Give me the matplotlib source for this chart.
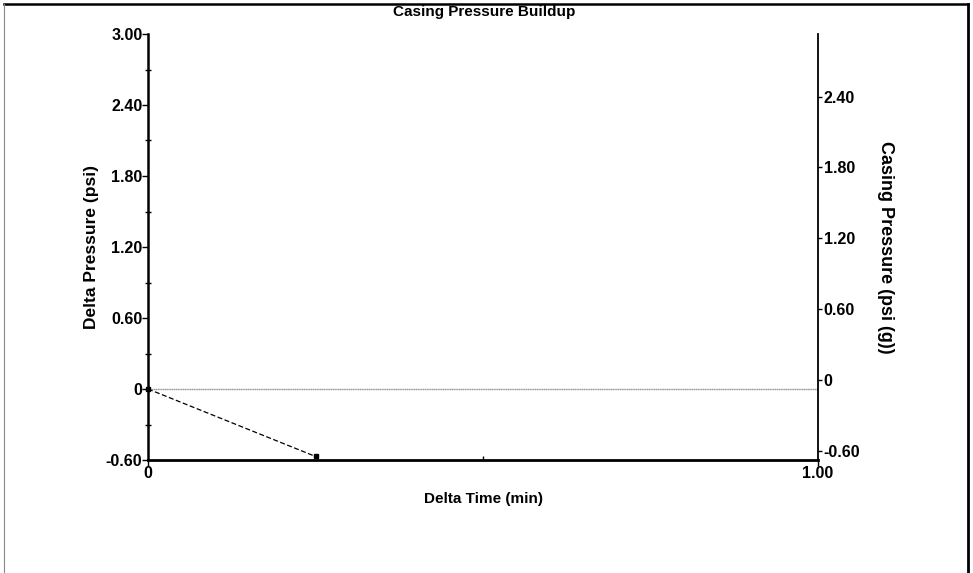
import matplotlib
matplotlib.use("Agg")
import matplotlib.pyplot as plt
from matplotlib.lines import Line2D
from matplotlib.ticker import MultipleLocator, FixedLocator

plt.rcParams['font.family'] = ['Liberation Sans', 'DejaVu Sans']

# data
delta_time = [0.0, 0.25]
delta_pressure = [0.0, -0.57]
left_ticks = [-0.60, 0, 0.60, 1.20, 1.80, 2.40, 3.00]
left_labels = ['-0.60', '0', '0.60', '1.20', '1.80', '2.40', '3.00']
right_ticks = [-0.60, 0, 0.60, 1.20, 1.80, 2.40]
right_labels = ['-0.60', '0', '0.60', '1.20', '1.80', '2.40']
x_ticks = [0, 1.0]
x_labels = ['0', '1.00']

fig = plt.figure(figsize=(9.73, 5.73), dpi=100)
ax = fig.add_axes([148/973, 1-460/573, (818-148)/973, (460-34)/573])

ax.set_xlim(0, 1.0)
ax.set_ylim(-0.60, 3.00)

ax.axhline(0, color='#999999', lw=1.0, ls=(0, (1, 0.3)), zorder=1)
ax.plot(delta_time, delta_pressure, color='black', lw=0.9, ls=(0, (4, 2)),
        marker='s', ms=3.5, mfc='black', mec='black', zorder=3, clip_on=False)

for s in ['top', 'right']:
    ax.spines[s].set_visible(False)
ax.spines['left'].set_linewidth(1.8)
ax.spines['bottom'].set_linewidth(2.0)

ax.yaxis.set_major_locator(FixedLocator(left_ticks))
ax.set_yticklabels(left_labels)
ax.yaxis.set_minor_locator(MultipleLocator(0.3))
ax.xaxis.set_major_locator(FixedLocator(x_ticks))
ax.set_xticklabels(x_labels)
ax.xaxis.set_minor_locator(FixedLocator([0.5]))

ax.tick_params(axis='both', which='major', direction='out', length=4, width=1,
               labelsize=11.5, pad=0)
ax.tick_params(axis='y', which='minor', direction='inout', length=4, width=1)
ax.tick_params(axis='x', which='minor', direction='in', length=3, width=1)
for lab in ax.get_xticklabels() + ax.get_yticklabels():
    lab.set_fontweight('bold')

ax.set_xlabel('Delta Time (min)', fontsize=11, fontweight='bold', labelpad=8)
ax.set_ylabel('Delta Pressure (psi)', fontsize=12.5, fontweight='bold', labelpad=5)

ax2 = ax.twinx()
ax2.set_ylim(-0.676, 2.93)
for s in ['top', 'left', 'bottom']:
    ax2.spines[s].set_visible(False)
ax2.spines['right'].set_linewidth(1.3)
ax2.yaxis.set_major_locator(FixedLocator(right_ticks))
ax2.set_yticklabels(right_labels)
ax2.tick_params(axis='y', which='major', direction='out', length=3, width=1,
                labelsize=11.5, pad=1)
for lab in ax2.get_yticklabels():
    lab.set_fontweight('bold')
ax2.set_ylabel('Casing Pressure (psi (g))', fontsize=13, fontweight='bold',
               rotation=270, labelpad=24)

fig.text(484/973, 1-12/573, 'Casing Pressure Buildup', ha='center', va='center',
         fontsize=11, fontweight='bold')

# outer frame
fig.add_artist(Line2D([4/973, 968/973], [1-4/573, 1-4/573], color='black', lw=1.8,
                      transform=fig.transFigure))
fig.add_artist(Line2D([4/973, 4/973], [0, 1-4/573], color='#888888', lw=0.8,
                      transform=fig.transFigure))
fig.add_artist(Line2D([968/973, 968/973], [0, 1-4/573], color='black', lw=2.0,
                      transform=fig.transFigure))

fig.savefig('out.png', dpi=100)
